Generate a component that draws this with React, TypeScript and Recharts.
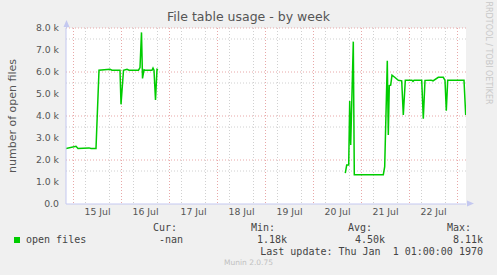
import { LineChart, Line, XAxis, YAxis, CartesianGrid } from "recharts";

// hours since 15 Jul 00:00
const hours = [
  -3.75, 1.25, 2.25, 7.75, 8.75, 11.25, 12.75, 18.25, 19.25, 23.25, 23.75, 25,
  26.75, 27.75, 32.5, 33.25, 34, 34.5, 35.25, 35.75, 39.25, 39.75, 40.25, 41,
  41.75, 42.25, 89, 135.9, 136.6, 137.6, 138.1, 138.6, 139.9, 140.4, 154.9,
  155.6, 156.9, 157.4, 157.9, 158.6, 159.25, 160.75, 162.4, 164.1, 164.9,
  165.9, 169.25, 169.75, 170.25, 174.1, 174.9, 175.75, 178.75, 179.75, 182.4,
  184.9, 185.75, 186.4, 187.1, 195.25, 196.1,
];
const openFiles = [
  2520, 2620, 2520, 2550, 2520, 2520, 6080, 6120, 6080, 6080, 4530, 6080, 6120,
  6080, 6080, 6200, 7800, 5710, 6100, 6080, 6080, 6180, 6080, 4730, 6120, 6100,
  null, 1400, 1770, 1770, 4680, 2680, 7380, 1330, 1330, 1700, 6510, 3140, 5380,
  5400, 5860, 5750, 5620, 5600, 4050, 5620, 5620, 5570, 5620, 5620, 3880, 5620,
  5630, 5600, 5760, 5760, 5620, 4240, 5620, 5620, 4050,
];

const dayTicks = [12, 36, 60, 84, 108, 132, 156, 180];
const dayLabels = ["15 Jul", "16 Jul", "17 Jul", "18 Jul", "19 Jul", "20 Jul", "21 Jul", "22 Jul"];
const midnights = [0, 24, 48, 72, 96, 120, 144, 168, 192];
const sixHours = [
  6, 12, 18, 30, 36, 42, 54, 60, 66, 78, 84, 90, 102, 108, 114, 126, 132, 138,
  150, 156, 162, 174, 180, 186,
];
const yTicks = [0, 1000, 2000, 3000, 4000, 5000, 6000, 7000, 8000];
const yHalf = [500, 1500, 2500, 3500, 4500, 5500, 6500, 7500];

const legendHead = ["Cur:", "Min:", "Avg:", "Max:"];
const legendVals = ["-nan", "1.18k", "4.50k", "8.11k"];
const legendRight = [177, 275, 372, 471];
const legendValRight = [183, 287, 385, 483];

const data = hours.map((h, i) => ({ h, files: openFiles[i] }));

const sans = "'DejaVu Sans', sans-serif";
const mono = "'DejaVu Sans Mono', monospace";
const axisBlue = "#c4c8f0";

export default function App() {
  const tickStyle = { fill: "#555", fontFamily: sans, fontSize: 9.3 };
  return (
    <div
      style={{
        position: "fixed",
        left: 0,
        top: 0,
        width: 497,
        height: 275,
        background: "#f0f0f0",
        overflow: "hidden",
      }}
    >
      <LineChart
        width={497}
        height={275}
        data={data}
        margin={{ top: 28, right: 31, bottom: 51, left: 0 }}
      >
        <CartesianGrid
          fill="#ffffff"
          stroke="#d0d0d0"
          strokeDasharray="1 2"
          horizontalValues={yHalf}
          verticalValues={sixHours}
        />
        <CartesianGrid
          stroke="#e8a8a8"
          strokeDasharray="1 2"
          horizontalValues={yTicks.slice(1)}
          verticalValues={midnights}
        />
        <XAxis
          dataKey="h"
          type="number"
          domain={[-3.75, 196.25]}
          allowDataOverflow
          ticks={dayTicks}
          tickFormatter={(v) => dayLabels[dayTicks.indexOf(v)]}
          height={20}
          tickLine={false}
          tickSize={0}
          tickMargin={4}
          axisLine={{ stroke: axisBlue }}
          tick={tickStyle}
        />
        <YAxis
          domain={[0, 8000]}
          ticks={yTicks}
          tickFormatter={(v) => (v === 0 ? "0.0" : (v / 1000).toFixed(1) + " k")}
          width={66}
          tickLine={false}
          tickSize={0}
          tickMargin={7}
          axisLine={{ stroke: axisBlue }}
          tick={tickStyle}
        />
        <Line
          dataKey="files"
          type="linear"
          stroke="#00cc00"
          strokeWidth={1.5}
          dot={false}
          connectNulls={false}
          isAnimationActive={false}
        />
      </LineChart>

      <svg
        width={497}
        height={275}
        style={{ position: "absolute", left: 0, top: 0, pointerEvents: "none" }}
      >
        <line x1={66.5} y1={28} x2={66.5} y2={22} stroke={axisBlue} />
        <polygon points="63.5,27 69.5,27 66.5,20" fill={axisBlue} />
        <polygon points="467,200.5 467,206.5 474,203.5" fill={axisBlue} />
      </svg>

      <div
        style={{
          position: "absolute",
          left: 0,
          width: 497,
          top: 9,
          textAlign: "center",
          fontFamily: sans,
          fontSize: 12.5,
          color: "#555",
          lineHeight: "16px",
        }}
      >
        File table usage - by week
      </div>
      <div
        style={{
          position: "absolute",
          left: 12,
          top: 116,
          transform: "translate(-50%, -50%) rotate(-90deg)",
          fontFamily: sans,
          fontSize: 11,
          color: "#555",
          whiteSpace: "nowrap",
        }}
      >
        number of open files
      </div>
      <div
        style={{
          position: "absolute",
          left: 488,
          top: 53,
          transform: "translate(-50%, -50%) rotate(90deg)",
          fontFamily: sans,
          fontSize: 8,
          color: "#c8c8c8",
          whiteSpace: "nowrap",
        }}
      >
        RRDTOOL / TOBI OETIKER
      </div>

      <div
        style={{
          position: "absolute",
          left: 14,
          top: 237,
          width: 6,
          height: 6,
          background: "#00cc00",
        }}
      />
      <div
        style={{
          position: "absolute",
          left: 26,
          top: 234,
          fontFamily: mono,
          fontSize: 10,
          color: "#444",
          whiteSpace: "pre",
          lineHeight: "12px",
        }}
      >
        open files
      </div>
      {legendHead.map((t, i) => (
        <div
          key={t}
          style={{
            position: "absolute",
            right: 497 - legendRight[i],
            top: 222,
            fontFamily: mono,
            fontSize: 10,
            color: "#444",
            whiteSpace: "pre",
            lineHeight: "12px",
          }}
        >
          {t}
        </div>
      ))}
      {legendVals.map((t, i) => (
        <div
          key={t}
          style={{
            position: "absolute",
            right: 497 - legendValRight[i],
            top: 234,
            fontFamily: mono,
            fontSize: 10,
            color: "#444",
            whiteSpace: "pre",
            lineHeight: "12px",
          }}
        >
          {t}
        </div>
      ))}
      <div
        style={{
          position: "absolute",
          right: 14,
          top: 246,
          fontFamily: mono,
          fontSize: 10,
          color: "#444",
          whiteSpace: "pre",
          lineHeight: "12px",
        }}
      >
        Last update: Thu Jan  1 01:00:00 1970
      </div>
      <div
        style={{
          position: "absolute",
          left: 0,
          width: 497,
          top: 258,
          textAlign: "center",
          fontFamily: sans,
          fontSize: 7.5,
          color: "#c0c0c0",
          lineHeight: "10px",
        }}
      >
        Munin 2.0.75
      </div>
    </div>
  );
}
